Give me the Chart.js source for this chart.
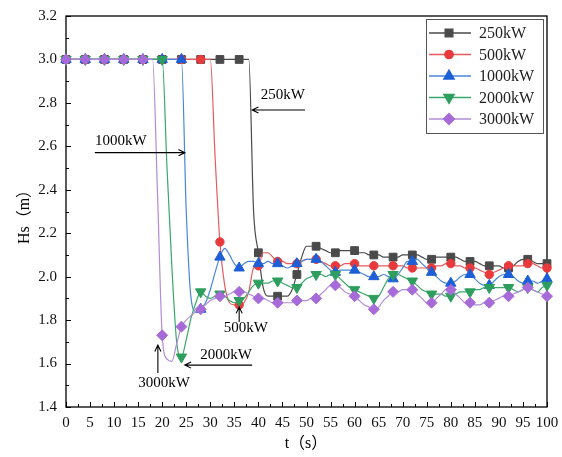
<!DOCTYPE html>
<html>
<head>
<meta charset="utf-8">
<script src="https://cdn.jsdelivr.net/npm/chart.js@4.4.1/dist/chart.umd.min.js"></script>
<style>
  html, body { margin: 0; padding: 0; background: #fff; }
  #wrap { width: 562px; height: 457px; }
</style>
</head>
<body>
<div id="wrap"><canvas id="chart" width="562" height="457"></canvas></div>
<script>
// ==========================
// DONNÉES (Hs en m, pas de 1 s)
// ==========================
const timeS = Array.from({ length: 101 }, (_, i) => i);
const seriesNames = ["250kW", "500kW", "1000kW", "2000kW", "3000kW"];

const hs250 = [
  3.0, 3.0, 3.0, 3.0, 3.0, 3.0, 3.0, 3.0, 3.0, 3.0,
  3.0, 3.0, 3.0, 3.0, 3.0, 3.0, 3.0, 3.0, 3.0, 3.0,
  3.0, 3.0, 3.0, 3.0, 3.0, 3.0, 3.0, 3.0, 3.0, 3.0,
  3.0, 3.0, 3.0, 3.0, 3.0, 3.0, 3.0, 3.0, 3.0, 2.3,
  2.11, 1.95, 1.91, 1.91, 1.91, 1.91, 1.91, 1.94, 2.01, 2.09,
  2.14, 2.14, 2.14, 2.13, 2.12, 2.11, 2.11, 2.12, 2.12, 2.12,
  2.12, 2.11, 2.11, 2.10, 2.10, 2.10, 2.09, 2.09, 2.09, 2.09,
  2.10, 2.10, 2.10, 2.10, 2.09, 2.08, 2.08, 2.09, 2.09, 2.09,
  2.09, 2.09, 2.08, 2.07, 2.07, 2.07, 2.06, 2.05, 2.05, 2.05,
  2.05, 2.04, 2.04, 2.05, 2.07, 2.08, 2.08, 2.07, 2.06, 2.06,
  2.06
];
const hs500 = [
  3.0, 3.0, 3.0, 3.0, 3.0, 3.0, 3.0, 3.0, 3.0, 3.0,
  3.0, 3.0, 3.0, 3.0, 3.0, 3.0, 3.0, 3.0, 3.0, 3.0,
  3.0, 3.0, 3.0, 3.0, 3.0, 3.0, 3.0, 3.0, 3.0, 3.0,
  3.0, 2.55, 2.16, 1.96, 1.88, 1.87, 1.87, 1.88, 1.93, 2.04,
  2.05, 2.11, 2.11, 2.09, 2.07, 2.07, 2.06, 2.06, 2.06, 2.07,
  2.08, 2.08, 2.08, 2.07, 2.06, 2.05, 2.05, 2.05, 2.06, 2.06,
  2.06, 2.05, 2.05, 2.05, 2.05, 2.05, 2.05, 2.05, 2.05, 2.05,
  2.05, 2.04, 2.04, 2.04, 2.04, 2.04, 2.04, 2.05, 2.05, 2.06,
  2.06, 2.05, 2.05, 2.04, 2.04, 2.04, 2.03, 2.02, 2.01, 2.02,
  2.03, 2.04, 2.05, 2.05, 2.05, 2.05, 2.06, 2.06, 2.05, 2.04,
  2.04
];
const hs1000 = [
  3.0, 3.0, 3.0, 3.0, 3.0, 3.0, 3.0, 3.0, 3.0, 3.0,
  3.0, 3.0, 3.0, 3.0, 3.0, 3.0, 3.0, 3.0, 3.0, 3.0,
  3.0, 3.0, 3.0, 3.0, 3.0, 2.3, 1.90, 1.84, 1.85, 1.88,
  1.94, 2.02, 2.09, 2.13, 2.10, 2.06, 2.04, 2.06, 2.07, 2.07,
  2.06, 2.06, 2.07, 2.06, 2.06, 2.05, 2.04, 2.05, 2.06, 2.07,
  2.08, 2.08, 2.08, 2.07, 2.05, 2.03, 2.02, 2.03, 2.03, 2.03,
  2.03, 2.02, 2.01, 2.00, 2.00, 2.00, 2.01, 2.00, 1.99, 2.01,
  2.04, 2.07, 2.07, 2.08, 2.06, 2.04, 2.02, 2.00, 1.98, 1.97,
  1.97, 1.98, 2.00, 2.01, 2.01, 1.99, 1.97, 1.96, 1.96, 1.98,
  2.00, 2.01, 2.01, 2.00, 1.98, 1.97, 1.98, 1.98, 1.97, 1.98,
  1.99
];
const hs2000 = [
  3.0, 3.0, 3.0, 3.0, 3.0, 3.0, 3.0, 3.0, 3.0, 3.0,
  3.0, 3.0, 3.0, 3.0, 3.0, 3.0, 3.0, 3.0, 3.0, 3.0,
  3.0, 2.5, 2.05, 1.70, 1.63, 1.71, 1.81, 1.88, 1.93, 1.91,
  1.90, 1.91, 1.92, 1.91, 1.89, 1.88, 1.89, 1.90, 1.93, 1.96,
  1.97, 1.97, 1.97, 1.98, 1.98, 1.97, 1.96, 1.95, 1.95, 1.97,
  1.99, 2.00, 2.01, 2.01, 2.00, 2.01, 2.01, 1.99, 1.97, 1.95,
  1.94, 1.93, 1.92, 1.91, 1.90, 1.91, 1.95, 1.99, 2.01, 2.01,
  2.00, 1.99, 1.98, 1.96, 1.94, 1.93, 1.92, 1.92, 1.92, 1.91,
  1.91, 1.92, 1.93, 1.93, 1.93, 1.94, 1.94, 1.95, 1.95, 1.95,
  1.95, 1.95, 1.95, 1.94, 1.93, 1.94, 1.95, 1.94, 1.93, 1.95,
  1.96
];
const hs3000 = [
  3.0, 3.0, 3.0, 3.0, 3.0, 3.0, 3.0, 3.0, 3.0, 3.0,
  3.0, 3.0, 3.0, 3.0, 3.0, 3.0, 3.0, 3.0, 3.0, 2.4,
  1.73, 1.62, 1.61, 1.69, 1.77, 1.80, 1.82, 1.84, 1.85, 1.87,
  1.89, 1.90, 1.91, 1.91, 1.92, 1.93, 1.93, 1.93, 1.92, 1.91,
  1.90, 1.90, 1.89, 1.88, 1.88, 1.88, 1.88, 1.88, 1.89, 1.89,
  1.89, 1.90, 1.90, 1.92, 1.94, 1.96, 1.96, 1.95, 1.93, 1.92,
  1.91, 1.89, 1.87, 1.86, 1.85, 1.86, 1.89, 1.91, 1.93, 1.93,
  1.94, 1.94, 1.94, 1.92, 1.90, 1.88, 1.88, 1.90, 1.92, 1.94,
  1.94, 1.92, 1.90, 1.88, 1.88, 1.87, 1.87, 1.88, 1.88, 1.89,
  1.90, 1.91, 1.91, 1.92, 1.93, 1.94, 1.95, 1.94, 1.93, 1.92,
  1.91
];

// annotations (coordonnées données : t, Hs)
const noteLabels = ["250kW", "1000kW", "500kW", "2000kW", "3000kW"];
const noteTextAt = [[45.1, 2.836], [11.4, 2.624], [37.4, 1.764], [33.3, 1.639], [20.4, 1.51]];
const noteArrowFrom = [[49.7, 2.767], [6.0, 2.571], [36.0, 1.791], [38.7, 1.593], [19.1, 1.556]];
const noteArrowTo = [[38.7, 2.767], [24.7, 2.571], [36.0, 1.86], [24.7, 1.593], [19.1, 1.685]];

// styles
const lineColors = ["#4a4a4a", "#e85a5e", "#4a86d8", "#3aa86b", "#b28cd9"];
const markColors = ["#4a4a4a", "#e83a3c", "#1d5fd6", "#2d9e5d", "#a66bd8"];
const markStyles = ["rect", "circle", "triangle", "triangle", "rectRot"];
const markRotation = [0, 0, 0, 180, 0];
const markRadius = [5.5, 4.2, 6, 6, 5.5];
const markerEvery = 4;
const FONT = "'Liberation Serif', 'Noto Sans CJK SC', serif";

const allSeries = [hs250, hs500, hs1000, hs2000, hs3000];

/* =======================================================
   PLUGIN : cadre, graduations, titres, légende, flèches
======================================================= */
const decorPlugin = {
  id: "decor",
  beforeDatasetsDraw(chart) {
    const { ctx, chartArea: a, scales } = chart;
    const x = scales.x, y = scales.y;
    ctx.save();
    ctx.strokeStyle = "#000";
    ctx.lineWidth = 1.3;
    ctx.strokeRect(a.left, a.top, a.right - a.left, a.bottom - a.top);

    ctx.lineWidth = 1;
    ctx.beginPath();
    for (let k = 0; k <= 40; k++) {
      const px = Math.round(x.getPixelForValue(k * 2.5)) + 0.5;
      const len = k % 2 === 0 ? 5 : 3;
      ctx.moveTo(px, a.bottom);
      ctx.lineTo(px, a.bottom - len);
    }
    for (let k = 14; k <= 32; k++) {
      const py = Math.round(y.getPixelForValue(k / 10)) + 0.5;
      const len = k % 2 === 0 ? 5 : 3;
      ctx.moveTo(a.left, py);
      ctx.lineTo(a.left + len, py);
    }
    ctx.stroke();
    ctx.restore();
  },
  afterDraw(chart) {
    const { ctx, scales } = chart;
    const x = scales.x, y = scales.y;
    ctx.save();

    // titres des axes
    ctx.fillStyle = "#000";
    ctx.font = "16px " + FONT;
    ctx.textAlign = "center";
    ctx.textBaseline = "middle";
    ctx.fillText("t（s）", 306, 444);
    ctx.save();
    ctx.translate(25, 213);
    ctx.rotate(-Math.PI / 2);
    ctx.fillText("Hs（m）", 0, 0);
    ctx.restore();

    // annotations
    ctx.font = "15px " + FONT;
    ctx.strokeStyle = "#000";
    ctx.lineWidth = 1.1;
    noteLabels.forEach((label, i) => {
      const tx = x.getPixelForValue(noteTextAt[i][0]);
      const ty = y.getPixelForValue(noteTextAt[i][1]);
      ctx.fillText(label, tx, ty);

      const x0 = x.getPixelForValue(noteArrowFrom[i][0]);
      const y0 = y.getPixelForValue(noteArrowFrom[i][1]);
      const x1 = x.getPixelForValue(noteArrowTo[i][0]);
      const y1 = y.getPixelForValue(noteArrowTo[i][1]);
      const ang = Math.atan2(y1 - y0, x1 - x0);
      ctx.beginPath();
      ctx.moveTo(x0, y0);
      ctx.lineTo(x1, y1);
      ctx.moveTo(x1 - 7 * Math.cos(ang - 0.45), y1 - 7 * Math.sin(ang - 0.45));
      ctx.lineTo(x1, y1);
      ctx.lineTo(x1 - 7 * Math.cos(ang + 0.45), y1 - 7 * Math.sin(ang + 0.45));
      ctx.stroke();
    });

    // légende
    const bx = 426, by = 19, bw = 117, bh = 114;
    ctx.fillStyle = "#fff";
    ctx.fillRect(bx, by, bw, bh);
    ctx.strokeStyle = "#555";
    ctx.lineWidth = 1;
    ctx.strokeRect(bx + 0.5, by + 0.5, bw, bh);
    ctx.font = "16px " + FONT;
    ctx.textAlign = "left";
    seriesNames.forEach((name, i) => {
      const ry = by + 14 + i * 21.5;
      ctx.strokeStyle = lineColors[i];
      ctx.lineWidth = 1.3;
      ctx.beginPath();
      ctx.moveTo(bx + 3, ry);
      ctx.lineTo(bx + 45, ry);
      ctx.stroke();
      ctx.fillStyle = markColors[i];
      ctx.strokeStyle = markColors[i];
      Chart.helpers.drawPoint(ctx, {
        pointStyle: markStyles[i],
        rotation: markRotation[i],
        radius: markRadius[i],
        borderWidth: 1,
      }, bx + 23, ry);
      ctx.fillStyle = "#222";
      ctx.fillText(name, bx + 53, ry + 1);
    });

    ctx.restore();
  },
};

/* =======================================================
   CHART
======================================================= */
const datasets = allSeries.map((values, i) => ({
  label: seriesNames[i],
  data: values.map((v, k) => ({ x: timeS[k], y: v })),
  borderColor: lineColors[i],
  borderWidth: 1.2,
  backgroundColor: markColors[i],
  pointBackgroundColor: markColors[i],
  pointBorderColor: markColors[i],
  pointBorderWidth: 1,
  pointStyle: markStyles[i],
  pointRotation: markRotation[i],
  pointRadius: (c) => (c.dataIndex % markerEvery === 0 ? markRadius[i] : 0),
  cubicInterpolationMode: "monotone",
  clip: false,
  order: seriesNames.length - i,
}));

new Chart(document.getElementById("chart"), {
  type: "line",
  data: { datasets },
  options: {
    responsive: false,
    animation: false,
    events: [],
    layout: { padding: { left: 10, right: 15, top: 16, bottom: 0 } },
    plugins: { legend: { display: false }, tooltip: { enabled: false } },
    scales: {
      x: {
        type: "linear",
        min: 0,
        max: 100,
        grid: { display: false, drawTicks: false },
        border: { display: false },
        ticks: {
          stepSize: 5,
          padding: 7,
          color: "#111",
          maxRotation: 0,
          autoSkip: false,
          font: { family: FONT, size: 15 },
        },
        afterFit: (s) => {
          s.height = 50;
          s.paddingLeft = 0;
          s.paddingRight = 0;
        },
      },
      y: {
        min: 1.4,
        max: 3.2,
        grid: { display: false, drawTicks: false },
        border: { display: false },
        ticks: {
          stepSize: 0.2,
          padding: 9,
          color: "#111",
          font: { family: FONT, size: 15 },
          callback: (v) => Number(v).toFixed(1),
        },
        afterFit: (s) => {
          s.width = 56;
          s.paddingTop = 0;
          s.paddingBottom = 0;
        },
      },
    },
  },
  plugins: [decorPlugin],
});
</script>
</body>
</html>
